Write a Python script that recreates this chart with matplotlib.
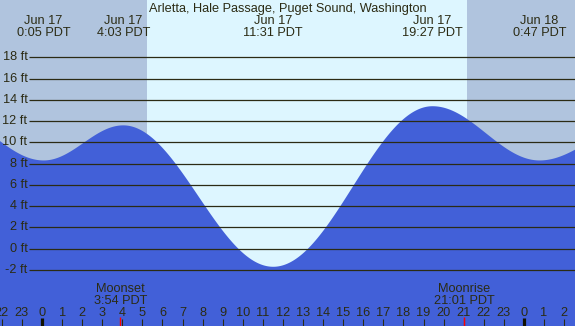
import numpy as np
import matplotlib
matplotlib.use("Agg")
import matplotlib.pyplot as plt
import matplotlib.transforms as mtransforms

# ---- data (hours relative to Jun 17 00:00 PDT, heights in ft) ----
tide_times = [-5.0, 0.083, 4.05, 11.517, 19.45, 24.783, 29.5]
tide_heights = [13.0, 8.3, 11.6, -1.7, 13.4, 8.3, 11.6]
event_labels = [("Jun 17", "0:05 PDT"), ("Jun 17", "4:03 PDT"), ("Jun 17", "11:31 PDT"),
                ("Jun 17", "19:27 PDT"), ("Jun 18", "0:47 PDT")]
event_times = [0.083, 4.05, 11.517, 19.45, 24.783]
sunrise, sunset = 5.21, 21.17
moon_events = [("Moonset", "3:54 PDT", 3.9), ("Moonrise", "21:01 PDT", 21.017)]
y_ticks = [18, 16, 14, 12, 10, 8, 6, 4, 2, 0, -2]
hour_ticks = list(range(-2, 27))
title = "Arletta, Hale Passage, Puget Sound, Washington"

W, H = 575, 326
fig = plt.figure(figsize=(W / 100, H / 100), dpi=100)
ax = fig.add_axes([0, 0, 1, 1])
x0, x1 = -2.092, 26.545
y0, y1 = -7.27, 23.39
ax.set_xlim(x0, x1)
ax.set_ylim(y0, y1)
ax.axis("off")

night = "#b0c4de"
day = "#ddf6ff"
water = "#4260d8"
ink = "#2b2b14"
FS = 9.2
plt.rcParams["font.family"] = ["Liberation Sans", "DejaVu Sans"]

ax.axvspan(x0, sunrise, color=night, lw=0, zorder=0)
ax.axvspan(sunrise, sunset, color=day, lw=0, zorder=0)
ax.axvspan(sunset, x1, color=night, lw=0, zorder=0)

# tide curve (cosine interpolation between extremes)
t = np.linspace(x0, x1, 1500)
h = np.empty_like(t)
for i in range(len(tide_times) - 1):
    ta, tb = tide_times[i], tide_times[i + 1]
    ha, hb = tide_heights[i], tide_heights[i + 1]
    m = (t >= ta) & (t <= tb)
    f = (t[m] - ta) / (tb - ta)
    h[m] = ha + (hb - ha) * (1 - np.cos(np.pi * f)) / 2
ax.fill_between(t, y0, h, color=water, lw=0, zorder=1)

def hx(pxl):
    return x0 + pxl / W * (x1 - x0)

grid_start = hx(29)
for v in y_ticks:
    ax.plot([grid_start, x1], [v, v], color=ink, lw=0.9, zorder=2, solid_capstyle="butt")
    ax.text(hx(27.5), v, f"{v} ft", ha="right", va="center", fontsize=FS, color=ink, zorder=3)

trans = mtransforms.blended_transform_factory(ax.transData, ax.transAxes)
def fy(pxl):
    return 1 - pxl / H

ax.text(hx(W / 2), fy(12), title, transform=trans, ha="center", va="baseline",
        fontsize=FS, color=ink)
for (a, b), tt in zip(event_labels, event_times):
    ax.text(tt, fy(24), a, transform=trans, ha="center", va="baseline", fontsize=FS, color=ink)
    ax.text(tt, fy(36), b, transform=trans, ha="center", va="baseline", fontsize=FS, color=ink)

for a, b, tt in moon_events:
    ax.text(tt, fy(292), a, transform=trans, ha="center", va="baseline", fontsize=FS, color=ink)
    ax.text(tt, fy(304), b, transform=trans, ha="center", va="baseline", fontsize=FS, color=ink)
    ax.plot([tt, tt], [fy(317), 0], transform=trans, color="red", lw=1.0, zorder=4,
            solid_capstyle="butt")

for hr in hour_ticks:
    lab = str(hr % 24)
    ax.text(hr, fy(316), lab, transform=trans, ha="center", va="baseline", fontsize=FS, color=ink)
    if hr % 24 == 0:
        ax.plot([hr, hr], [fy(318), 0], transform=trans, color="#111100", lw=2.3, zorder=4,
                solid_capstyle="butt")
    else:
        ax.plot([hr, hr], [fy(319), 0], transform=trans, color=ink, lw=0.8, zorder=3,
                solid_capstyle="butt")

fig.savefig("out.png", dpi=100)
